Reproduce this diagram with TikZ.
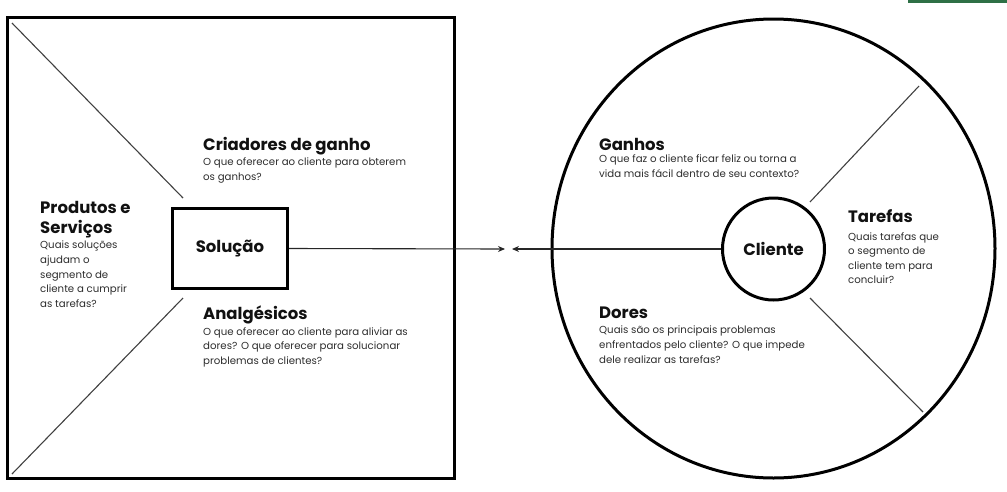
\documentclass[tikz,border=0pt]{standalone}
\usepackage{fontspec}
\setmainfont{Poppins}
\usetikzlibrary{arrows.meta}
\definecolor{bodygray}{RGB}{45,45,45}
\definecolor{titleblack}{RGB}{17,17,17}
\definecolor{bargreen}{RGB}{46,112,70}
\tikzset{
  frame/.style={draw=black, line width=3pt},
  thinline/.style={draw=black!75, line width=1.1pt},
  title/.style={anchor=north west, inner sep=0pt, align=left, text=titleblack,
    font=\fontsize{16.5}{20.5}\selectfont\bfseries},
  body/.style={anchor=north west, inner sep=0pt, align=left, text=bodygray,
    font=\fontsize{10.2}{14.6}\selectfont},
  centertitle/.style={inner sep=0pt, text=titleblack, font=\fontsize{16.5}{20}\selectfont\bfseries},
  arr/.style={draw=black!85, line width=1.1pt, -{Stealth[length=7pt,width=6pt]}}
}
\begin{document}
\begin{tikzpicture}[x=1pt,y=-1pt]
\useasboundingbox (0,0) rectangle (1007,491);
\fill[bargreen] (908,0) rectangle (1007,3);
% left square
\draw[frame] (7,17) rectangle (454,478);
\node[frame, minimum width=115pt, minimum height=80pt, inner sep=0pt] (sol) at (230,248.5) {};
\node[centertitle] at (sol.center) {Solução};
\coordinate (tl) at (12,23);
\coordinate (tlend) at (183,198);
\coordinate (bl) at (12,474);
\coordinate (blend) at (183,298);
\draw[thinline] (tl) -- (tlend);
\draw[thinline] (blend) -- (bl);
% right circle
\draw[frame] (773.5,248.5) ellipse [x radius=221.5pt, y radius=229.5pt];
\node[frame, circle, minimum size=102pt, inner sep=0pt] (cli) at (773.5,249) {};
\node[centertitle] at (cli.center) {Cliente};
\coordinate (gs) at (810,202);
\coordinate (ge) at (919,86);
\coordinate (ds) at (810,298);
\coordinate (de) at (923,412);
\draw[thinline] (gs) -- (ge);
\draw[thinline] (ds) -- (de);
% arrows
\coordinate (mida) at (505,249);
\coordinate (midb) at (512,249);
\draw[arr] (sol.east) -- (mida);
\draw[arr] (cli.west) -- (midb);
% texts
\node[title] (t1) at (203,137) {Criadores de ganho};
\node[body] (b1) at (203,158) {O que oferecer ao cliente para obterem\\os ganhos?};
\node[title] (t2) at (40,201) {Produtos e\\Serviços};
\node[body] (b2) at (40,241) {Quais soluções\\ajudam o\\segmento de\\cliente a cumprir\\as tarefas?};
\node[title] (t3) at (203,306) {Analgésicos};
\node[body] (b3) at (203,327) {O que oferecer ao cliente para aliviar as\\dores? O que oferecer para solucionar\\problemas de clientes?};
\node[title] (t4) at (599,138) {Ganhos};
\node[body] (b4) at (599,155) {O que faz o cliente ficar feliz ou torna a\\vida mais fácil dentro de seu contexto?};
\node[title] (t5) at (848,209) {Tarefas};
\node[body] (b5) at (848,232) {Quais tarefas que\\o segmento de\\cliente tem para\\concluir?};
\node[title] (t6) at (599,307) {Dores};
\node[body] (b6) at (599,326) {Quais são os principais problemas\\enfrentados pelo cliente? O que impede\\dele realizar as tarefas?};
\end{tikzpicture}
\end{document}
